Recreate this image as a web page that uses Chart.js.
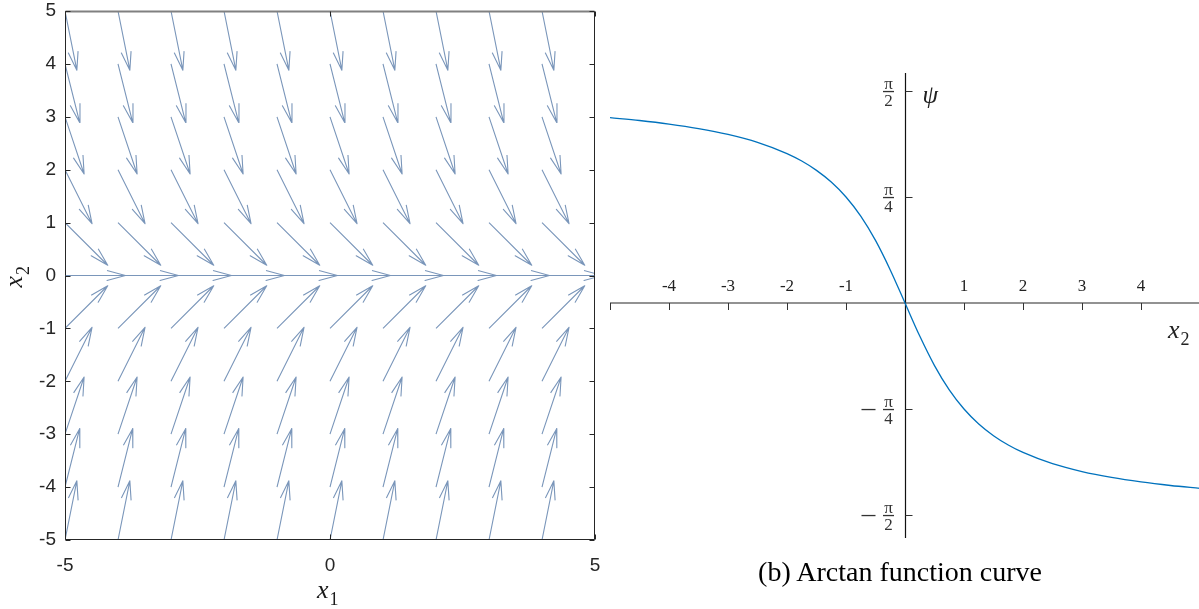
<!DOCTYPE html>
<html>
<head>
<meta charset="utf-8">
<script src="https://cdn.jsdelivr.net/npm/chart.js@4.4.0/dist/chart.umd.min.js"></script>
<style>
    body { margin: 0; background: #fff; width: 1199px; height: 609px; overflow: hidden; position: relative; }
    #quiver { position: absolute; left: 0; top: 0; }
    #arctan { position: absolute; left: 600px; top: 0; }
    #caption {
        position: absolute; left: 700px; top: 558px; width: 400px; text-align: center;
        font: 28px 'Liberation Serif', 'Times New Roman', serif; color: #000; line-height: 28px;
    }
</style>
</head>
<body>
<canvas id="quiver" width="610" height="609"></canvas>
<canvas id="arctan" width="600" height="609"></canvas>
<div id="caption">(b) Arctan function curve</div>
<script>
// campo de direcciones: una flecha por nodo de la rejilla
var gridX1 = [-5, -4, -3, -2, -1, 0, 1, 2, 3, 4, 5];
var gridX2 = [-5, -4, -3, -2, -1, 0, 1, 2, 3, 4, 5];
// pendiente dx2/dx1 de las flechas en cada fila de gridX2
var rowSlope = [5, 4, 3, 2, 1, 0, -1, -2, -3, -4, -5];
var x1Ticks = [-5, 0, 5];
var x2Ticks = [-5, -4, -3, -2, -1, 0, 1, 2, 3, 4, 5];

// curva psi(x2)
var curveX2 = [-5, -4.5, -4, -3.5, -3, -2.5, -2, -1.75, -1.5, -1.25, -1, -0.75, -0.5, -0.25, 0,
    0.25, 0.5, 0.75, 1, 1.25, 1.5, 1.75, 2, 2.5, 3, 3.5, 4, 4.5, 5];
var curvePsi = [1.3734, 1.3521, 1.3258, 1.2925, 1.2490, 1.1903, 1.1071, 1.0517, 0.9828, 0.8961, 0.7854, 0.6435, 0.4636, 0.2450, 0,
    -0.2450, -0.4636, -0.6435, -0.7854, -0.8961, -0.9828, -1.0517, -1.1071, -1.1903, -1.2490, -1.2925, -1.3258, -1.3521, -1.3734];
var psiAxisTicks = [-5, -4, -3, -2, -1, 1, 2, 3, 4];
var psiAxisLabels = ['', '-4', '-3', '-2', '-1', '1', '2', '3', '4'];
var psiTicks = [Math.PI / 2, Math.PI / 4, -Math.PI / 4, -Math.PI / 2];
var psiTickNum = ['π', 'π', 'π', 'π'];
var psiTickDen = ['2', '4', '4', '2'];
var psiTickNeg = [false, false, true, true];

var ARROW_LEN = 1.14;
var HEAD_LEN = 0.36;
var HEAD_ANG = 15 * Math.PI / 180;
var SANS = "'Liberation Sans', Arial, sans-serif";
var SERIF = "'Liberation Serif', 'Times New Roman', serif";

// cada flecha es una polilinea: cola, punta, barba, punta, barba
function datasetsFlechas() {
    var sets = [];
    var c = Math.cos(HEAD_ANG), s = Math.sin(HEAD_ANG);
    gridX2.forEach(function (x2, i) {
        var n = Math.sqrt(1 + rowSlope[i] * rowSlope[i]);
        var ux = 1 / n, uy = rowSlope[i] / n;
        var bx = -ux, by = -uy;
        gridX1.forEach(function (x1) {
            var tx = x1 + ARROW_LEN * ux, ty = x2 + ARROW_LEN * uy;
            sets.push({
                data: [
                    { x: x1, y: x2 },
                    { x: tx, y: ty },
                    { x: tx + HEAD_LEN * (bx * c - by * s), y: ty + HEAD_LEN * (bx * s + by * c) },
                    { x: tx, y: ty },
                    { x: tx + HEAD_LEN * (bx * c + by * s), y: ty + HEAD_LEN * (-bx * s + by * c) }
                ],
                borderColor: '#7a96ba',
                borderWidth: 1.1,
                borderJoinStyle: 'round',
                pointRadius: 0,
                tension: 0
            });
        });
    });
    return sets;
}

function subindice(ctx, x, y, base, sub, size) {
    ctx.font = 'italic ' + size + 'px ' + SERIF;
    ctx.fillText(base, x, y);
    var w = ctx.measureText(base).width;
    ctx.font = Math.round(size * 0.68) + 'px ' + SERIF;
    ctx.fillText(sub, x + w + 1, y + size * 0.25);
}

// marco, marcas hacia dentro, etiquetas y titulos de ejes
var marcoQuiver = {
    id: 'marcoQuiver',
    afterDraw: function (chart) {
        var ctx = chart.ctx, a = chart.chartArea, sx = chart.scales.x, sy = chart.scales.y;
        var L = a.left + 0.5, R = a.right - 0.5, T = a.top + 0.5, B = a.bottom - 0.5;
        ctx.save();
        ctx.lineWidth = 2;
        ctx.strokeStyle = '#808080';
        ctx.beginPath();
        ctx.moveTo(L, T); ctx.lineTo(R, T);
        ctx.stroke();
        ctx.lineWidth = 1;
        ctx.strokeStyle = '#262626';
        ctx.beginPath();
        ctx.moveTo(L, T); ctx.lineTo(L, B); ctx.lineTo(R, B); ctx.lineTo(R, T);
        x2Ticks.forEach(function (v) {
            var py = Math.round(sy.getPixelForValue(v)) + 0.5;
            ctx.moveTo(L, py); ctx.lineTo(L + 5, py);
            ctx.moveTo(R, py); ctx.lineTo(R - 5, py);
        });
        x1Ticks.forEach(function (v) {
            var px = Math.round(sx.getPixelForValue(v)) + 0.5;
            ctx.moveTo(px, B); ctx.lineTo(px, B - 5);
            ctx.moveTo(px, T); ctx.lineTo(px, T + 5);
        });
        ctx.stroke();

        ctx.fillStyle = '#262626';
        ctx.font = '19px ' + SANS;
        ctx.textAlign = 'right';
        ctx.textBaseline = 'middle';
        x2Ticks.forEach(function (v) {
            ctx.fillText(String(v), a.left - 9, sy.getPixelForValue(v));
        });
        ctx.textAlign = 'center';
        ctx.textBaseline = 'top';
        x1Ticks.forEach(function (v) {
            ctx.fillText(String(v), sx.getPixelForValue(v), a.bottom + 16);
        });

        ctx.fillStyle = '#1a1a1a';
        ctx.textAlign = 'left';
        ctx.textBaseline = 'alphabetic';
        subindice(ctx, (a.left + a.right) / 2 - 13, 598, 'x', '1', 26);
        ctx.translate(22, (a.top + a.bottom) / 2 + 12);
        ctx.rotate(-Math.PI / 2);
        subindice(ctx, 0, 0, 'x', '2', 26);
        ctx.restore();
    }
};

new Chart('quiver', {
    type: 'line',
    data: { datasets: datasetsFlechas() },
    options: {
        responsive: false,
        animation: false,
        devicePixelRatio: 1,
        layout: { padding: { top: 11, right: 15, left: 65, bottom: 69 } },
        plugins: { legend: { display: false }, tooltip: { enabled: false } },
        scales: {
            x: { type: 'linear', min: -5, max: 5, display: false },
            y: { type: 'linear', min: -5, max: 5, display: false }
        }
    },
    plugins: [marcoQuiver]
});

// ejes cruzando por el origen
var ejesArctan = {
    id: 'ejesArctan',
    beforeDatasetsDraw: function (chart) {
        var ctx = chart.ctx, a = chart.chartArea, sx = chart.scales.x, sy = chart.scales.y;
        var ox = Math.round(sx.getPixelForValue(0)) + 0.5;
        var oy = sy.getPixelForValue(0);
        ctx.save();
        // eje horizontal
        ctx.strokeStyle = '#6e6e6e';
        ctx.lineWidth = 1.6;
        ctx.beginPath();
        ctx.moveTo(a.left, oy); ctx.lineTo(a.right, oy);
        ctx.stroke();
        ctx.strokeStyle = '#333';
        ctx.lineWidth = 1;
        ctx.beginPath();
        psiAxisTicks.forEach(function (v) {
            var px = Math.round(sx.getPixelForValue(v)) + 0.5;
            ctx.moveTo(px, oy); ctx.lineTo(px, oy + 7);
        });
        ctx.stroke();
        ctx.fillStyle = '#222';
        ctx.font = '17px ' + SERIF;
        ctx.textAlign = 'center';
        ctx.textBaseline = 'middle';
        psiAxisTicks.forEach(function (v, i) {
            ctx.fillText(psiAxisLabels[i], sx.getPixelForValue(v), oy - 16);
        });

        // eje vertical
        ctx.strokeStyle = '#111';
        ctx.lineWidth = 1.2;
        ctx.beginPath();
        ctx.moveTo(ox, a.top); ctx.lineTo(ox, a.bottom);
        ctx.stroke();
        ctx.lineWidth = 1;
        ctx.strokeStyle = '#333';
        ctx.beginPath();
        psiTicks.forEach(function (v) {
            var py = Math.round(sy.getPixelForValue(v)) + 0.5;
            ctx.moveTo(ox, py); ctx.lineTo(ox + 7, py);
        });
        ctx.stroke();
        psiTicks.forEach(function (v, i) {
            var py = Math.round(sy.getPixelForValue(v)) + 0.5;
            var cx = ox - 17;
            ctx.fillStyle = '#333';
            ctx.font = '17px ' + SERIF;
            ctx.fillText(psiTickNum[i], cx, py - 7);
            ctx.fillText(psiTickDen[i], cx, py + 10);
            ctx.fillRect(cx - 5.5, py - 0.6, 11, 1.3);
            if (psiTickNeg[i]) ctx.fillRect(cx - 27, py - 0.6, 14, 1.3);
        });

        ctx.fillStyle = '#222';
        ctx.textAlign = 'left';
        ctx.textBaseline = 'alphabetic';
        ctx.font = 'italic 25px ' + SERIF;
        ctx.fillText('ψ', ox + 17, 103);
        subindice(ctx, a.right - 32, 338, 'x', '2', 26);
        ctx.restore();
    }
};

new Chart('arctan', {
    type: 'line',
    data: {
        labels: curveX2,
        datasets: [{
            data: curvePsi,
            borderColor: '#0072bd',
            borderWidth: 1.3,
            pointRadius: 0,
            cubicInterpolationMode: 'monotone'
        }]
    },
    options: {
        responsive: false,
        animation: false,
        devicePixelRatio: 1,
        layout: { padding: { top: 73, right: 0, left: 10, bottom: 71 } },
        plugins: { legend: { display: false }, tooltip: { enabled: false } },
        scales: {
            x: { type: 'linear', min: -5, max: 5, display: false },
            y: { type: 'linear', min: -1.741, max: 1.704, display: false }
        }
    },
    plugins: [ejesArctan]
});
</script>
</body>
</html>
